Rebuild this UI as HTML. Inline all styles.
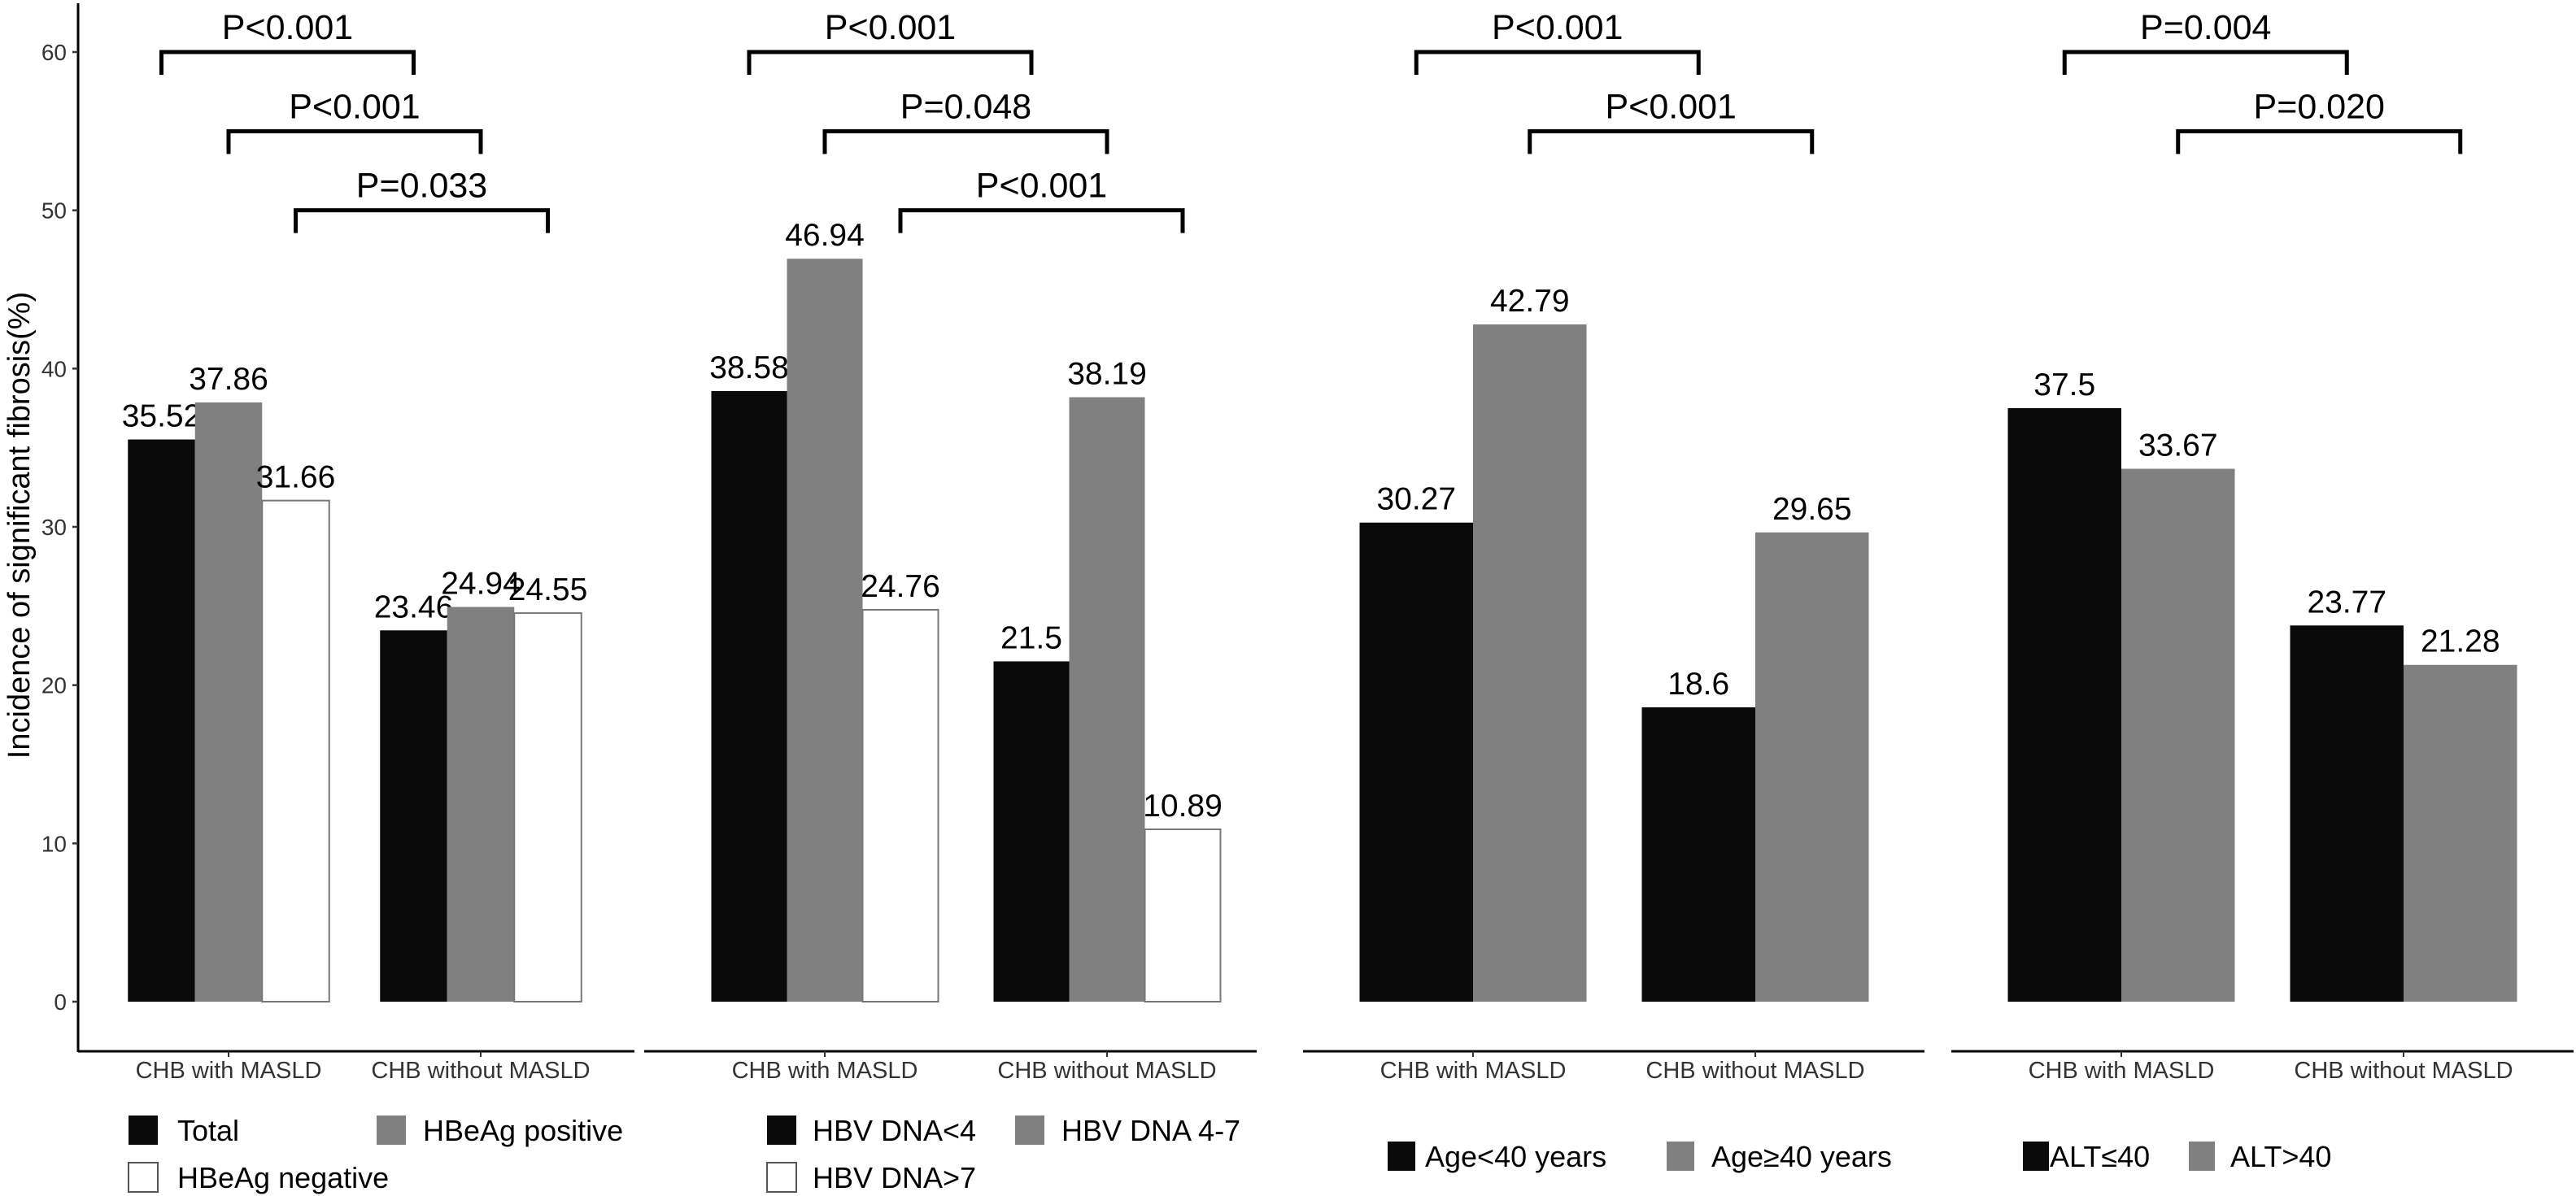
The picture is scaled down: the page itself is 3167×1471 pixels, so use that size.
<!DOCTYPE html>
<html><head><meta charset="utf-8"><style>
html,body{margin:0;padding:0;background:#fff;}
svg{display:block;font-family:"Liberation Sans",Arial,sans-serif;}
</style></head><body>
<svg id="chart" width="3167" height="1471" viewBox="0 0 3167 1471" xmlns="http://www.w3.org/2000/svg">
<text x="0" y="0" transform="translate(36,646) rotate(-90)" text-anchor="middle" font-size="38" fill="#000">Incidence of significant fibrosis(%)</text>
</svg>
<script>
const categories = ["CHB with MASLD", "CHB without MASLD"];
const yTicks = [0, 10, 20, 30, 40, 50, 60];
const p1Series = ["Total", "HBeAg positive", "HBeAg negative"];
const p1Values = [[35.52, 23.46], [37.86, 24.94], [31.66, 24.55]];
const p1PLabels = ["P<0.001", "P<0.001", "P=0.033"];
const p2Series = ["HBV DNA<4", "HBV DNA 4-7", "HBV DNA>7"];
const p2Values = [[38.58, 21.5], [46.94, 38.19], [24.76, 10.89]];
const p2PLabels = ["P<0.001", "P=0.048", "P<0.001"];
const p3Series = ["Age<40 years", "Age≥40 years"];
const p3Values = [[30.27, 18.6], [42.79, 29.65]];
const p3PLabels = ["P<0.001", "P<0.001"];
const p4Series = ["ALT≤40", "ALT>40"];
const p4Values = [[37.5, 23.77], [33.67, 21.28]];
const p4PLabels = ["P=0.004", "P=0.020"];
const bracketLevels = [60, 55, 50];

const NS = "http://www.w3.org/2000/svg";
const svg = document.getElementById("chart");
const colors = ["#0a0a0a", "#808080", "#ffffff"];
const Y0 = 1232, PER = (1232 - 64) / 60;
function y(v) { return Y0 - v * PER; }
function mk(tag, attrs, parent) {
  const e = document.createElementNS(NS, tag);
  for (const k in attrs) e.setAttribute(k, attrs[k]);
  (parent || svg).appendChild(e);
  return e;
}
const panels = [
  {series: p1Series, values: p1Values, plabels: p1PLabels, ax0: 96, ax1: 780, centers: [281, 591], bw: 82.5, pname: "hbeag",
   legend: [[158, 1372, 218], [463, 1372, 520], [158, 1430, 218]], box: 36},
  {series: p2Series, values: p2Values, plabels: p2PLabels, ax0: 792, ax1: 1545, centers: [1014, 1361], bw: 93, pname: "hbv-dna",
   legend: [[943, 1372, 999], [1248, 1372, 1305], [943, 1430, 999]], box: 36},
  {series: p3Series, values: p3Values, plabels: p3PLabels, ax0: 1602, ax1: 2366, centers: [1811, 2158], bw: 139.5, pname: "age",
   legend: [[1706, 1404, 1752], [2049, 1404, 2104]], box: 34},
  {series: p4Series, values: p4Values, plabels: p4PLabels, ax0: 2399, ax1: 3164, centers: [2608, 2955], bw: 139.5, pname: "alt",
   legend: [[2487, 1404, 2520], [2691, 1404, 2742]], box: 32}
];
const yAxis = mk("line", {x1: 96, y1: 4, x2: 96, y2: 1294, stroke: "#000", "stroke-width": 3});


yTicks.forEach(t => {
  const tk = mk("line", {x1: 89, y1: y(t), x2: 96, y2: y(t), stroke: "#333", "stroke-width": 2.5});
  
  
  const lb = mk("text", {x: 82, y: y(t) + 10, "text-anchor": "end", "font-size": 28, fill: "#333"});
  
  
  lb.textContent = t;
});
panels.forEach((p, pi) => {
  const g = mk("g", {});
  
  
  const n = p.series.length;
  const ax = mk("line", {x1: p.ax0, y1: 1293, x2: p.ax1, y2: 1293, stroke: "#000", "stroke-width": 3}, g);
  
  
  const barX = (c, s) => p.centers[c] + (s - n / 2) * p.bw;
  categories.forEach((cat, c) => {
    const tk = mk("line", {x1: p.centers[c], y1: 1293, x2: p.centers[c], y2: 1300, stroke: "#333", "stroke-width": 2}, g);
    
    
    const lb = mk("text", {x: p.centers[c], y: 1326, "text-anchor": "middle", "font-size": 29, fill: "#333"}, g);
    
    
    lb.textContent = cat;
  });
  p.values.forEach((vals, s) => {
    vals.forEach((v, c) => {
      const x = barX(c, s);
      const r = mk("rect", {x: x, y: y(v), width: p.bw, height: y(0) - y(v), fill: colors[s],
        stroke: s === 2 ? "#777" : "none", "stroke-width": 2}, g);
      
      
      const t = mk("text", {x: x + p.bw / 2, y: y(v) - 16, "text-anchor": "middle", "font-size": 39, fill: "#000"}, g);
      
      
      t.textContent = String(v);
    });
  });
  p.plabels.forEach((lab, s) => {
    const xa = barX(0, s) + p.bw / 2, xb = barX(1, s) + p.bw / 2, yl = y(bracketLevels[s]);
    const br = mk("path", {d: `M${xa},${yl + 28} L${xa},${yl} L${xb},${yl} L${xb},${yl + 28}`, fill: "none", stroke: "#000", "stroke-width": 5}, g);
    
    
    const t = mk("text", {x: (xa + xb) / 2, y: yl - 16, "text-anchor": "middle", "font-size": 43, fill: "#000"}, g);
    
    
    t.textContent = lab;
  });
  p.series.forEach((name, s) => {
    const L = p.legend[s];
    const b = mk("rect", {x: L[0], y: L[1], width: p.box, height: 36, fill: colors[s], stroke: s === 2 ? "#555" : "none", "stroke-width": 2}, g);
    
    
    const t = mk("text", {x: L[2], y: L[1] + 31, "font-size": 36, fill: "#000"}, g);
    
    
    t.textContent = name;
  });
});
</script>
</body></html>
